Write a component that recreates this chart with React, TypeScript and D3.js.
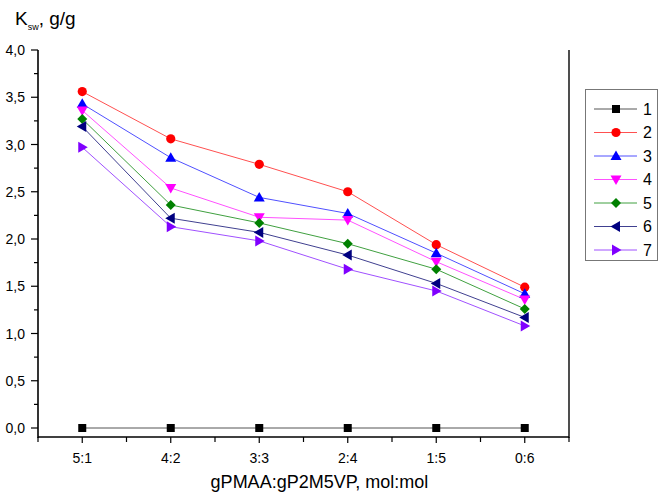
import React from "react";
import * as d3 from "d3";

const categories = ["5:1", "4:2", "3:3", "2:4", "1:5", "0:6"];
const seriesNames = ["1", "2", "3", "4", "5", "6", "7"];
const s1 = [0, 0, 0, 0, 0, 0];
const s2 = [3.56, 3.06, 2.79, 2.5, 1.94, 1.49];
const s3 = [3.43, 2.86, 2.44, 2.27, 1.85, 1.42];
const s4 = [3.36, 2.54, 2.23, 2.2, 1.76, 1.36];
const s5 = [3.27, 2.36, 2.17, 1.95, 1.68, 1.26];
const s6 = [3.19, 2.22, 2.07, 1.83, 1.53, 1.17];
const s7 = [2.97, 2.13, 1.98, 1.68, 1.45, 1.08];
const yTicks = [0, 0.5, 1, 1.5, 2, 2.5, 3, 3.5, 4];

const allSeries = [s1, s2, s3, s4, s5, s6, s7];
const colors = ["#000000", "#FF0000", "#0000FF", "#FF00FF", "#008000", "#000080", "#8000FF"];
const lineColors = ["#555555", "#FF5050", "#5050FF", "#FF50FF", "#40A040", "#404090", "#A050FF"];
const shapes = ["square", "circle", "up", "down", "diamond", "left", "right"];

const FONT = "Arial, 'Liberation Sans', sans-serif";

function Marker({ shape, x, y, color }: { shape: string; x: number; y: number; color: string }) {
  const s = 5;
  let d = "";
  if (shape === "square") return <rect x={x - 4} y={y - 4} width={8} height={8} fill={color} />;
  if (shape === "circle") return <circle cx={x} cy={y} r={4.6} fill={color} />;
  if (shape === "up") d = `M${x},${y - s - 0.5}L${x + s + 0.5},${y + s - 1}L${x - s - 0.5},${y + s - 1}Z`;
  if (shape === "down") d = `M${x},${y + s + 0.5}L${x + s + 0.5},${y - s + 1}L${x - s - 0.5},${y - s + 1}Z`;
  if (shape === "diamond") d = `M${x},${y - 5}L${x + 5},${y}L${x},${y + 5}L${x - 5},${y}Z`;
  if (shape === "left") d = `M${x - s - 0.5},${y}L${x + s - 1},${y - s - 0.5}L${x + s - 1},${y + s + 0.5}Z`;
  if (shape === "right") d = `M${x + s + 0.5},${y}L${x - s + 1},${y - s - 0.5}L${x - s + 1},${y + s + 0.5}Z`;
  return <path d={d} fill={color} />;
}

export default function App() {
  const W = 661, H = 496;
  const left = 38, right = 569, top = 50, bottom = 437;
  const x = d3.scaleLinear().domain([0.5, 6.5]).range([left, right]);
  const y = d3.scaleLinear().domain([0, 4]).range([428, top]);
  const line = d3.line<number>().x((_, i) => x(i + 1)).y((v) => y(v));
  const minorY = d3.range(0.25, 4, 0.5);
  const minorX = d3.range(0.5, 7, 1);

  return (
    <svg width={W} height={H} style={{ position: "absolute", left: 0, top: 0, background: "#fff" }} fontFamily={FONT}>
      {/* y-axis title */}
      <text x={15} y={25} fontSize={19} fill="#000">
        K<tspan fontSize={9} dy={5}>sw</tspan><tspan dy={-5}>, g/g</tspan>
      </text>

      {/* series lines */}
      {allSeries.map((s, k) => (
        <path key={"l" + k} d={line(s) || ""} fill="none" stroke={lineColors[k]} strokeWidth={1} />
      ))}
      {allSeries.map((s, k) =>
        s.map((v, i) => <Marker key={`m${k}-${i}`} shape={shapes[k]} x={x(i + 1)} y={y(v)} color={colors[k]} />)
      )}

      {/* axes */}
      <line x1={left} x2={left} y1={top} y2={bottom + 1} stroke="#000" strokeWidth={1.6} />
      <line x1={right} x2={right} y1={top} y2={bottom + 1} stroke="#222" strokeWidth={1.6} />
      <line x1={left} x2={right} y1={bottom} y2={bottom} stroke="#000" strokeWidth={1.6} />

      {yTicks.map((t) => (
        <g key={"yt" + t}>
          <line x1={left - 7} x2={left} y1={y(t)} y2={y(t)} stroke="#000" strokeWidth={1.2} />
          <text x={left - 13} y={y(t)} dy="0.36em" textAnchor="end" fontSize={14} fill="#000">
            {t.toFixed(1).replace(".", ",")}
          </text>
        </g>
      ))}
      {minorY.map((t) => (
        <line key={"ym" + t} x1={left - 4} x2={left} y1={y(t)} y2={y(t)} stroke="#000" strokeWidth={1.2} />
      ))}

      {categories.map((c, i) => (
        <g key={"xt" + c}>
          <line x1={x(i + 1)} x2={x(i + 1)} y1={bottom} y2={bottom + 6} stroke="#000" strokeWidth={1.2} />
          <text x={x(i + 1)} y={463} textAnchor="middle" fontSize={14} fill="#000">
            {c}
          </text>
        </g>
      ))}
      {minorX.map((t) => (
        <line key={"xm" + t} x1={x(t)} x2={x(t)} y1={bottom} y2={bottom + 5} stroke="#000" strokeWidth={1.2} />
      ))}

      <text x={(left + right) / 2 + 16} y={488} textAnchor="middle" fontSize={18} fill="#000">
        gPMAA:gP2M5VP, mol:mol
      </text>

      {/* legend */}
      <rect x={585.5} y={89.5} width={72} height={171} fill="#fff" stroke="#777" strokeWidth={1} />
      {seriesNames.map((n, k) => {
        const ly = 109 + k * 23.5;
        return (
          <g key={"lg" + n}>
            <line x1={594} x2={637} y1={ly} y2={ly} stroke={lineColors[k]} strokeWidth={1} />
            <Marker shape={shapes[k]} x={616} y={ly} color={colors[k]} />
            <text x={643} y={ly} dy="0.36em" fontSize={16} fill="#000">
              {n}
            </text>
          </g>
        );
      })}
    </svg>
  );
}
